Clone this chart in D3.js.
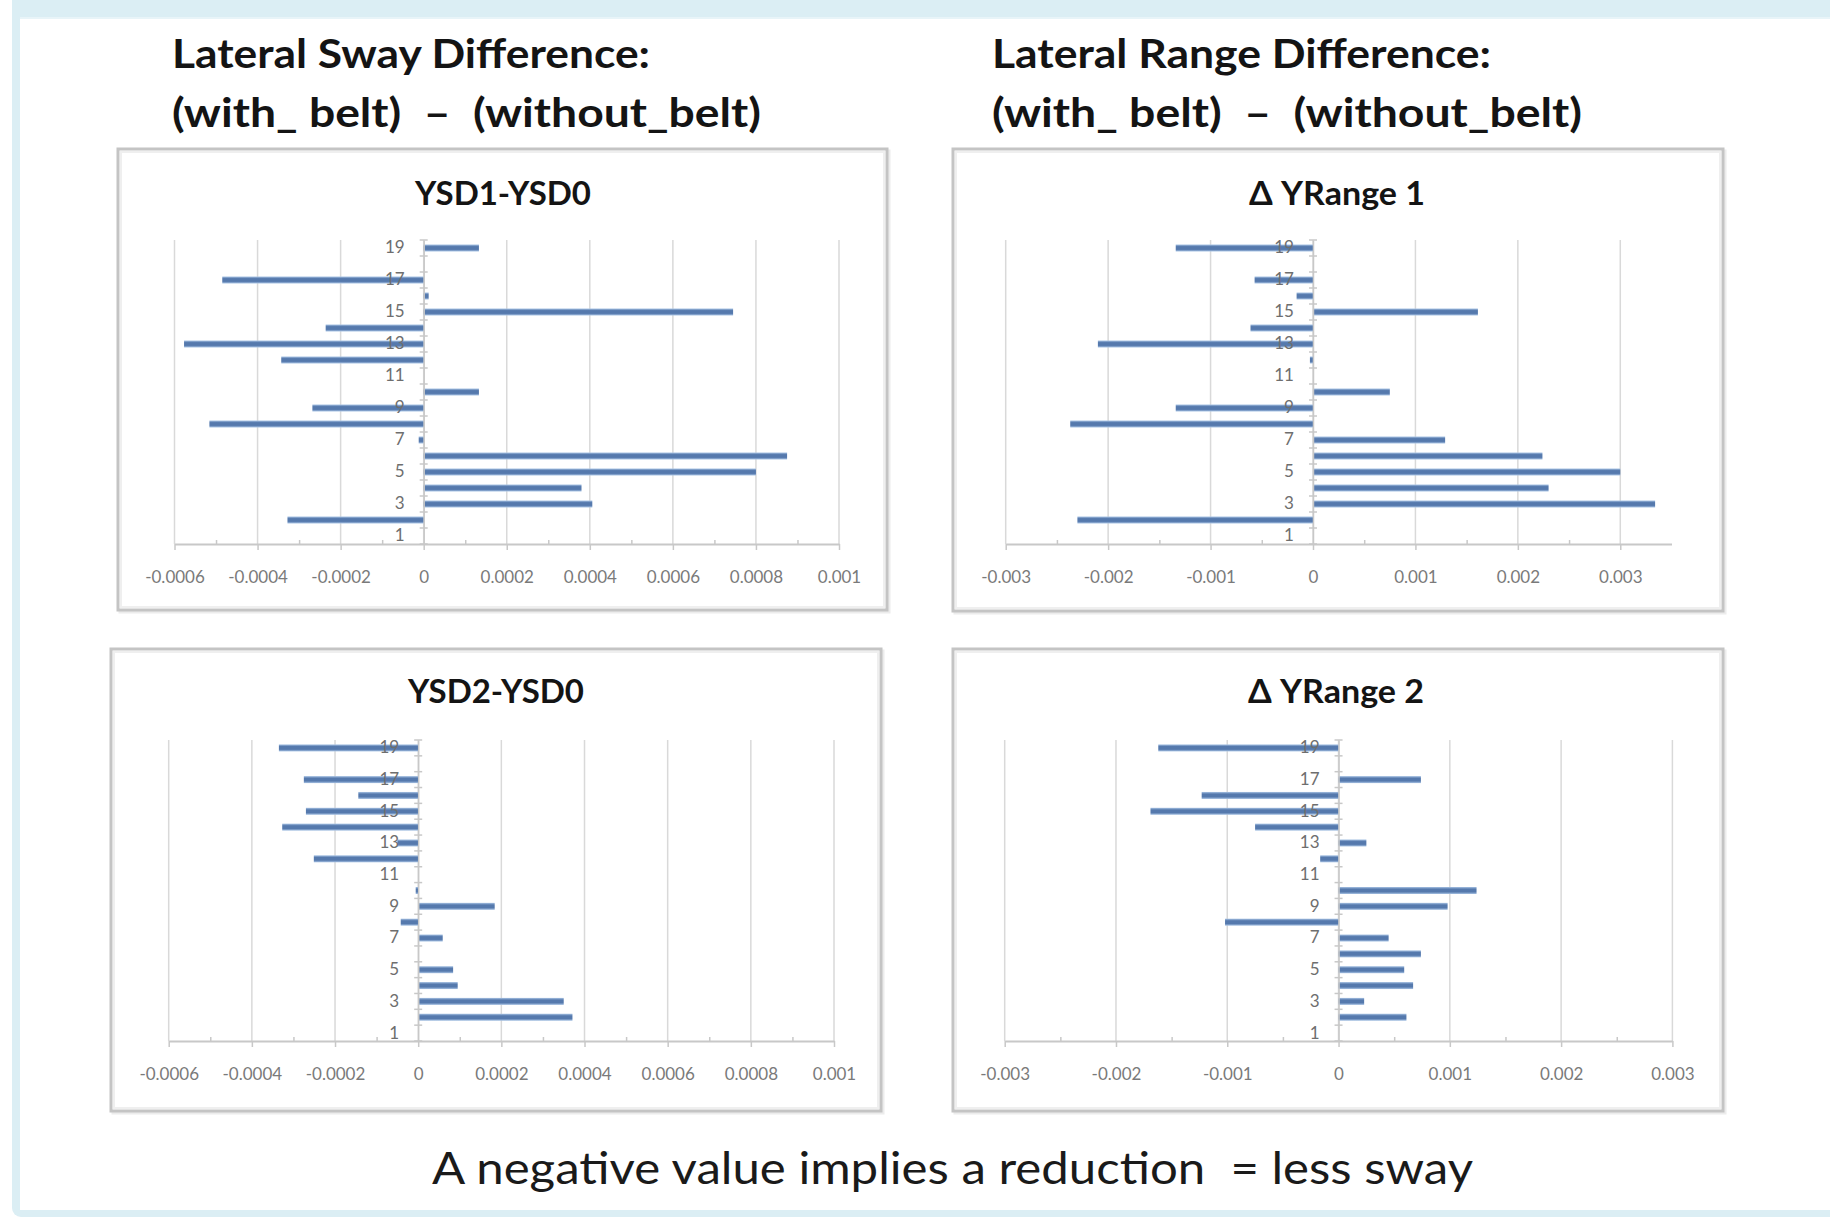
<!DOCTYPE html>
<html><head><meta charset="utf-8">
<script src="https://cdn.jsdelivr.net/npm/d3@7"></script>
<style>body{margin:0;background:#fff} svg{display:block}</style>
</head><body>
<svg id="c" width="1830" height="1224"></svg>
<script>
// ---------- data ----------
const categories = [1,2,3,4,5,6,7,8,9,10,11,12,13,14,15,16,17,18,19];
const categoryLabels = [1,3,5,7,9,11,13,15,17,19];

const ysd1 = [0, -0.000328, 0.000406, 0.00038, 0.0008, 0.000875, -0.000012, -0.000516, -0.000268, 0.000133,
              0, -0.000343, -0.000577, -0.000236, 0.000745, 0.000012, -0.000485, 0, 0.000133];
const yrange1 = [0, -0.0023, 0.00334, 0.0023, 0.003, 0.00224, 0.00129, -0.00237, -0.00134, 0.00075,
                 0, -0.00003, -0.0021, -0.00061, 0.00161, -0.00016, -0.00057, 0, -0.00134];
const ysd2 = [0, 0.000371, 0.00035, 0.000095, 0.000084, 0, 0.000059, -0.000042, 0.000184, -0.000006,
              0, -0.000251, -0.00005, -0.000327, -0.00027, -0.000144, -0.000275, 0, -0.000335];
const yrange2 = [0, 0.00061, 0.00023, 0.00067, 0.00059, 0.00074, 0.00045, -0.00102, 0.00098, 0.00124,
                 0, -0.000165, 0.00025, -0.00075, -0.00169, -0.00123, 0.00074, 0, -0.00162];

const swayTicks = [-0.0006, -0.0004, -0.0002, 0, 0.0002, 0.0004, 0.0006, 0.0008, 0.001];
const swayTickLabels = ["-0.0006","-0.0004","-0.0002","0","0.0002","0.0004","0.0006","0.0008","0.001"];
const rangeTicks = [-0.003, -0.002, -0.001, 0, 0.001, 0.002, 0.003];
const rangeTickLabels = ["-0.003","-0.002","-0.001","0","0.001","0.002","0.003"];

const chartTitles = ["YSD1-YSD0", "\u0394 YRange 1", "YSD2-YSD0", "\u0394 YRange 2"];
const headings = ["Lateral Sway Difference:", "(with_ belt)  \u2013  (without_belt)",
                  "Lateral Range Difference:", "(with_ belt)  \u2013  (without_belt)"];
const footnote = "A negative value implies a reduction  = less sway";

// ---------- layout ----------
const svg = d3.select('#c');
const FONT = "Lato, 'Open Sans', sans-serif";

// frame
svg.append('rect').attr('x',12).attr('y',-20).attr('width',1850).attr('height',1237).attr('rx',9).attr('fill','#dbeef4');
svg.append('rect').attr('x',20).attr('y',17).attr('width',1830).attr('height',1193).attr('fill','#fff');
svg.append('rect').attr('x',20).attr('y',17).attr('width',1830).attr('height',2).attr('fill','#e8f4f8');

// gradient for bars
const defs = svg.append('defs');
const grad = defs.append('linearGradient').attr('id','barg').attr('x1',0).attr('y1',0).attr('x2',0).attr('y2',1);
[[0,'#a8c3e4'],[0.3,'#5579ad'],[0.7,'#5579ad'],[1,'#a8c3e4']].forEach(([o,c]) =>
  grad.append('stop').attr('offset',o).attr('stop-color',c));

function fit(sel, w){ sel.attr('textLength', w).attr('lengthAdjust','spacingAndGlyphs'); }

// headings
const headPos = [[172,68,478],[172,127,589],[992,68,499],[992,127,590]];
headings.forEach((t,i) => {
  const [x,y,w] = headPos[i];
  svg.append('text').attr('x',x).attr('y',y).attr('font-family',FONT).attr('font-weight',700)
    .attr('font-size',40).attr('fill','#141414').style('white-space','pre').text(t).call(fit,w);
});
svg.append('text').attr('x',432).attr('y',1184).attr('font-family',FONT).attr('font-weight',400)
  .attr('font-size',44).attr('fill','#1a1a1a').style('white-space','pre').text(footnote).call(fit,1041);

const charts = [
  {values: ysd1, ticks: swayTicks, labels: swayTickLabels, domain:[-0.0006,0.001], title: chartTitles[0],
   box:[118,149,887,610], px:[174.5,839], py:[240,544], titleX:503, titleY:205},
  {values: yrange1, ticks: rangeTicks, labels: rangeTickLabels, domain:[-0.003,0.0035], title: chartTitles[1],
   box:[953,149,1723,611], px:[1005.7,1671.5], py:[240,544], titleX:1337, titleY:205},
  {values: ysd2, ticks: swayTicks, labels: swayTickLabels, domain:[-0.0006,0.001], title: chartTitles[2],
   box:[111,649,881,1111], px:[168.7,834], py:[740,1041], titleX:496, titleY:703},
  {values: yrange2, ticks: rangeTicks, labels: rangeTickLabels, domain:[-0.003,0.003], title: chartTitles[3],
   box:[953,649,1723,1111], px:[1004.7,1672.4], py:[740,1041], titleX:1336, titleY:703}
];

charts.forEach(cfg => {
  const g = svg.append('g');
  const [bx0,by0,bx1,by1] = cfg.box;
  // shadow + border
  g.append('rect').attr('x',bx0+2).attr('y',by0+2).attr('width',bx1-bx0).attr('height',by1-by0)
    .attr('fill','none').attr('stroke','#ececec').attr('stroke-width',3);
  g.append('rect').attr('x',bx0).attr('y',by0).attr('width',bx1-bx0).attr('height',by1-by0)
    .attr('fill','#fff').attr('stroke','#c4c4c4').attr('stroke-width',3);
  g.append('rect').attr('x',bx0+3).attr('y',by0+3).attr('width',bx1-bx0-6).attr('height',by1-by0-6)
    .attr('fill','none').attr('stroke','#efefef').attr('stroke-width',2);

  const x = d3.scaleLinear().domain(cfg.domain).range(cfg.px);
  const y = d3.scaleBand().domain(categories.slice().reverse()).range(cfg.py);

  // gridlines
  g.selectAll('line.grid').data(cfg.ticks).join('line').attr('class','grid')
    .attr('x1',d=>x(d)).attr('x2',d=>x(d)).attr('y1',cfg.py[0]).attr('y2',cfg.py[1])
    .attr('stroke','#d9d9d9').attr('stroke-width',1.5);

  // bottom axis
  const ax = g.append('g').attr('transform',`translate(0,${cfg.py[1]})`)
    .call(d3.axisBottom(x).tickValues(cfg.ticks).tickSize(6).tickSizeOuter(0).tickPadding(21)
      .tickFormat((d,i)=>cfg.labels[i]));
  ax.select('.domain').attr('stroke','#c8c8c8').attr('stroke-width',2);
  ax.selectAll('.tick line').attr('stroke','#c8c8c8').attr('stroke-width',1.5);
  ax.selectAll('.tick text').attr('font-family',FONT).attr('font-size',17).attr('fill','#7a7a7a');
  // minor ticks
  const minors = cfg.ticks.slice(0,-1).map((t,i)=> (t+cfg.ticks[i+1])/2);
  const mx = g.append('g').attr('transform',`translate(0,${cfg.py[1]})`)
    .call(d3.axisTop(x).tickValues(minors).tickSize(4).tickSizeOuter(0).tickFormat(''));
  mx.select('.domain').remove();
  mx.selectAll('.tick line').attr('stroke','#c8c8c8').attr('stroke-width',1.5);

  // bars
  const bh = 7;
  g.selectAll('rect.bar').data(categories).join('rect').attr('class','bar')
    .attr('x', c => x(Math.min(0, cfg.values[c-1])))
    .attr('width', c => Math.max(Math.abs(x(cfg.values[c-1]) - x(0)), cfg.values[c-1] === 0 ? 0 : 2))
    .attr('y', c => y(c) + y.bandwidth()/2 - bh/2)
    .attr('height', bh)
    .attr('fill','url(#barg)');

  // vertical category axis at zero
  const ay = g.append('g').attr('transform',`translate(${x(0)},0)`)
    .call(d3.axisLeft(y).tickValues(categoryLabels).tickSize(0).tickPadding(19));
  ay.select('.domain').attr('stroke','#c8c8c8').attr('stroke-width',1.5);
  ay.selectAll('.tick text').attr('font-family',FONT).attr('font-size',17).attr('fill','#6e6e6e');
  // boundary tick marks
  const bounds = categories.map(c => y(c)).concat([cfg.py[1]]);
  g.selectAll('line.ctick').data(bounds).join('line').attr('class','ctick')
    .attr('x1',x(0)-4).attr('x2',x(0)+4).attr('y1',d=>d).attr('y2',d=>d)
    .attr('stroke','#c8c8c8').attr('stroke-width',1.5);

  // title
  g.append('text').attr('x',cfg.titleX).attr('y',cfg.titleY).attr('text-anchor','middle')
    .attr('font-family',FONT).attr('font-weight',700).attr('font-size',33).attr('fill','#141414')
    .text(cfg.title).call(fit,176);
});
</script>
</body></html>
